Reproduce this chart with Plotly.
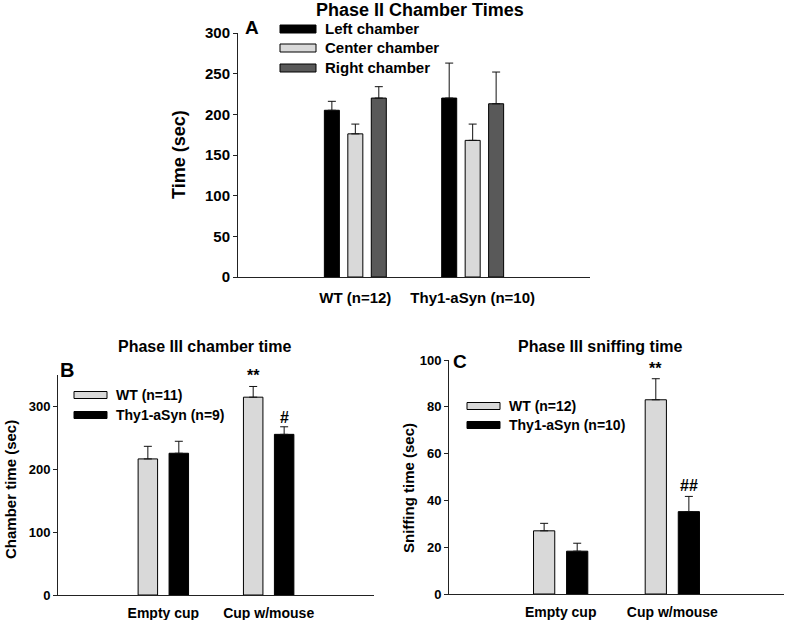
import plotly.graph_objects as go

# ---------------- data ----------------
groups_a = ["WT (n=12)", "Thy1-aSyn (n=10)"]
left_mean = [205, 220]
left_err = [11, 43]
center_mean = [176, 168]
center_err = [12, 20]
right_mean = [220, 213]
right_err = [14, 39]

cats_bc = ["Empty cup", "Cup w/mouse"]
b_wt_mean = [216, 314]
b_wt_err = [20, 17]
b_tg_mean = [225, 255]
b_tg_err = [19, 12]

c_wt_mean = [27, 83]
c_wt_err = [3.2, 9]
c_tg_mean = [18.3, 35.2]
c_tg_err = [3.4, 6.5]

FONT = "Liberation Sans, Arial, sans-serif"
BLACK = "#000000"
LIGHT = "#d9d9d9"
DARK = "#595959"
AX = "#222222"

W, H = 787, 620


def px(x):
    return x / W


def py(y):
    return 1 - y / H


fig = go.Figure()


def add_bar(xs, ys, err, color, width, offset, xa, ya):
    fig.add_trace(go.Bar(
        x=xs, y=ys, width=width, offset=offset,
        marker=dict(color=color, line=dict(color="#000000", width=1)),
        error_y=dict(type="data", symmetric=False, array=err,
                     arrayminus=[0] * len(err), color="#111111",
                     thickness=1, width=4),
        xaxis=xa, yaxis=ya, showlegend=False,
    ))


xa_idx = list(range(len(groups_a)))
xbc_idx = list(range(len(cats_bc)))

# Panel A
wa = 0.128
add_bar(xa_idx, left_mean, left_err, BLACK, wa, -0.2 - wa / 2, "x", "y")
add_bar(xa_idx, center_mean, center_err, LIGHT, wa, -wa / 2, "x", "y")
add_bar(xa_idx, right_mean, right_err, DARK, wa, 0.2 - wa / 2, "x", "y")

# Panel B
wb = 0.185
add_bar(xbc_idx, b_wt_mean, b_wt_err, LIGHT, wb, -0.147 - wb / 2, "x2", "y2")
add_bar(xbc_idx, b_tg_mean, b_tg_err, BLACK, wb, 0.147 - wb / 2, "x2", "y2")

# Panel C
wc = 0.19
add_bar(xbc_idx, c_wt_mean, c_wt_err, LIGHT, wc, -0.148 - wc / 2, "x3", "y3")
add_bar(xbc_idx, c_tg_mean, c_tg_err, BLACK, wc, 0.148 - wc / 2, "x3", "y3")

axis_common = dict(showline=True, linecolor=AX, linewidth=1, showgrid=False,
                   zeroline=False, mirror=False, automargin=False)


def xaxis(domain, ticktext, anchor, size, standoff):
    return dict(domain=domain, range=[-1, 2], anchor=anchor,
                tickvals=list(range(len(ticktext))), ticktext=ticktext,
                ticks="", tickfont=dict(family=FONT, size=size, color="#000", weight="bold"),
                ticklabelstandoff=standoff, fixedrange=True, **axis_common)


def yaxis(domain, rng, dtick, anchor, size):
    return dict(domain=domain, range=rng, dtick=dtick, anchor=anchor,
                ticks="outside", ticklen=4, tickcolor=AX,
                tickfont=dict(family=FONT, size=size, color="#000", weight="bold"),
                fixedrange=True, **axis_common)


fig.update_layout(
    width=W, height=H,
    margin=dict(l=0, r=0, t=0, b=0, autoexpand=False),
    paper_bgcolor="white", plot_bgcolor="white",
    barmode="overlay",
    font=dict(family=FONT, color="#000"),
    xaxis=xaxis([px(238), px(590)], groups_a, "y", 15, 7),
    yaxis=yaxis([py(277), py(33)], [0, 300], 50, "x", 15),
    xaxis2=xaxis([px(58), px(374)], cats_bc, "y2", 14, 5),
    yaxis2=yaxis([py(595), py(374.5)], [0, 350], 100, "x2", 13),
    xaxis3=xaxis([px(449), px(784)], cats_bc, "y3", 14, 5),
    yaxis3=yaxis([py(594), py(360)], [0, 100], 20, "x3", 13),
)

annots = []
shapes = []


def text(x, y, s, size, xanchor="center", yanchor="middle", angle=0):
    annots.append(dict(x=px(x), y=py(y), xref="paper", yref="paper", text=s,
                       showarrow=False, xanchor=xanchor, yanchor=yanchor,
                       textangle=angle,
                       font=dict(family=FONT, size=size, color="#000")))


# titles
text(420, 10, "<b>Phase II Chamber Times</b>", 18)
text(205, 346, "<b>Phase III chamber time</b>", 16)
text(600, 346, "<b>Phase III sniffing time</b>", 16)
# panel letters
text(252, 27, "<b>A</b>", 19)
text(67, 370, "<b>B</b>", 20)
text(460, 361, "<b>C</b>", 19)
# y titles
text(179, 155, "<b>Time (sec)</b>", 18, angle=-90)
text(10, 490, "<b>Chamber time (sec)</b>", 15, angle=-90)
text(408, 488, "<b>Sniffing time (sec)</b>", 15, angle=-90)


def legend(x0, x1, items, size):
    for yc, hh, col, lab in items:
        shapes.append(dict(type="rect", xref="paper", yref="paper",
                           x0=px(x0), x1=px(x1), y0=py(yc + hh / 2), y1=py(yc - hh / 2),
                           fillcolor=col, line=dict(color="#000", width=1)))
        text(x1 + 7, yc, "<b>" + lab + "</b>", size, xanchor="left")


legend(280, 316, [(29, 8, BLACK, "Left chamber"), (48, 8, LIGHT, "Center chamber"),
                  (68, 8, DARK, "Right chamber")], 15)
legend(74, 107, [(395, 7, LIGHT, "WT (n=11)"), (415, 7, BLACK, "Thy1-aSyn (n=9)")], 14)
legend(467, 500, [(406, 7, LIGHT, "WT (n=12)"), (425, 7, BLACK, "Thy1-aSyn (n=10)")], 14)

# significance markers (data coordinates)
sig = dict(showarrow=False, yanchor="bottom", font=dict(family=FONT, size=16, color="#000"))
annots.append(dict(x=1 - 0.147, y=b_wt_mean[1] + b_wt_err[1], xref="x2", yref="y2",
                   text="<b>**</b>", yshift=0, **sig))
annots.append(dict(x=1 + 0.147, y=b_tg_mean[1] + b_tg_err[1], xref="x2", yref="y2",
                   text="<b>#</b>", yshift=-1, **sig))
annots.append(dict(x=1 - 0.148, y=c_wt_mean[1] + c_wt_err[1], xref="x3", yref="y3",
                   text="<b>**</b>", yshift=0, **sig))
annots.append(dict(x=1 + 0.148, y=c_tg_mean[1] + c_tg_err[1], xref="x3", yref="y3",
                   text="<b>##</b>", yshift=0, **sig))

fig.update_layout(annotations=annots, shapes=shapes)
# remove the default 8px page margin so the figure fills the window exactly
fig.write_html("out.html",
               config={"displayModeBar": False},
               post_script="document.body.style.margin='0px';document.body.style.overflow='hidden';")
